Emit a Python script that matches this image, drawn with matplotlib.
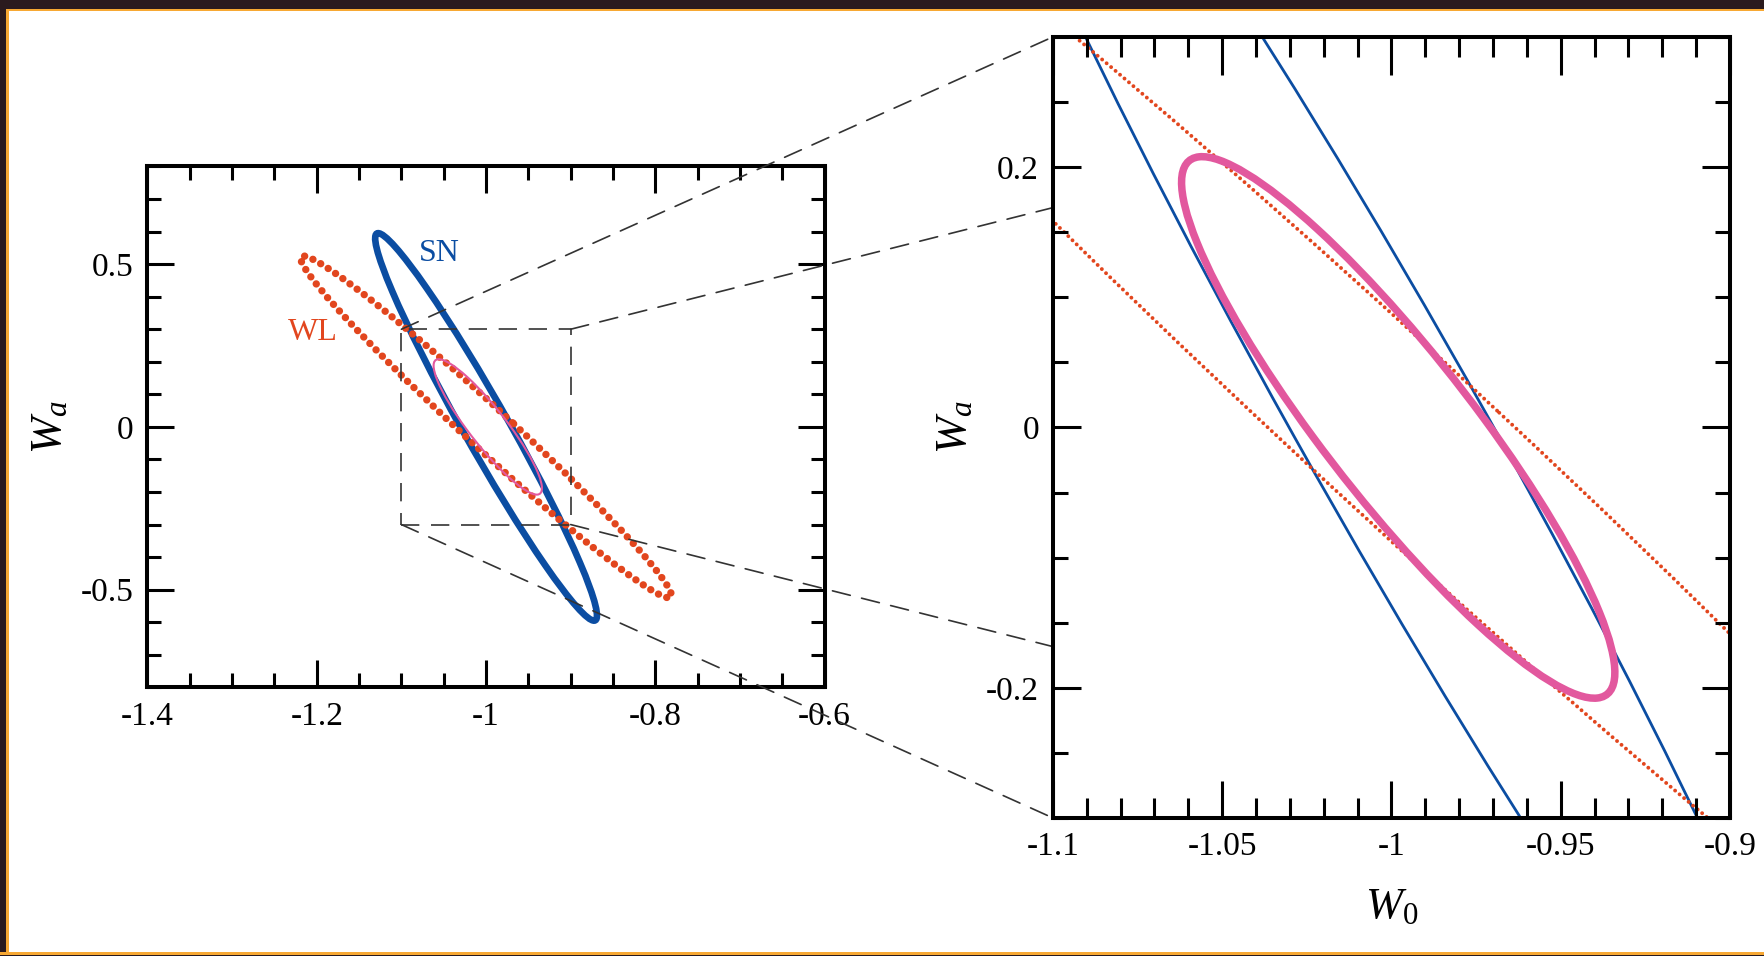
import numpy as np
import matplotlib
matplotlib.use('Agg')
import matplotlib.pyplot as plt
from matplotlib.patches import Ellipse, Rectangle, ConnectionPatch
from matplotlib.ticker import MultipleLocator, FixedLocator, FuncFormatter

plt.rcParams['font.family'] = ['Liberation Serif', 'DejaVu Serif']
plt.rcParams['mathtext.fontset'] = 'custom'
plt.rcParams['mathtext.rm'] = 'Liberation Serif'
plt.rcParams['mathtext.it'] = 'Liberation Serif:italic'
plt.rcParams['axes.unicode_minus'] = False

# contour data: SN, WL, combined (center, sigmas, correlation)
names = ['SN', 'WL', 'SN+WL']
w0_center = [-1.0, -1.0, -0.998]
wa_center = [0.0, 0.0, 0.0]
w0_sigma = [0.131, 0.219, 0.064]
wa_sigma = [0.595, 0.525, 0.208]
corr = [-0.973, -0.986, -0.905]

# axis ranges / ticks
full_w0 = [-1.4, -0.6]
full_wa = [-0.8, 0.8]
zoom_w0 = [-1.1, -0.9]
zoom_wa = [-0.3, 0.3]
full_w0_ticks = [-1.4, -1.2, -1, -0.8, -0.6]
full_wa_ticks = [-0.5, 0, 0.5]
zoom_w0_ticks = [-1.1, -1.05, -1, -0.95, -0.9]
zoom_wa_ticks = [-0.2, 0, 0.2]

blue = '#0B4DA2'
red = '#E2461E'
pink = '#E2589E'
colors = [blue, red, pink]


def ellipse_shape(i):
    sx, sy, r = w0_sigma[i], wa_sigma[i], corr[i]
    cov = np.array([[sx * sx, r * sx * sy], [r * sx * sy, sy * sy]])
    vals, vecs = np.linalg.eigh(cov)
    ang = np.degrees(np.arctan2(vecs[1, 1], vecs[0, 1]))
    return 2 * np.sqrt(vals[1]), 2 * np.sqrt(vals[0]), ang


def draw_contours(ax, lws, dots):
    for i in range(len(names)):
        w, h, ang = ellipse_shape(i)
        ls = (0, (0.01, dots)) if names[i] == 'WL' else '-'
        e = Ellipse((w0_center[i], wa_center[i]), w, h, angle=ang, fill=False,
                    edgecolor=colors[i], lw=lws[i], linestyle=ls, capstyle='round')
        ax.add_patch(e)


def style_axes(ax, xt, yt, xminor, yminor, xlen, ylen):
    ax.xaxis.set_major_locator(FixedLocator(xt))
    ax.yaxis.set_major_locator(FixedLocator(yt))
    ax.xaxis.set_minor_locator(MultipleLocator(xminor))
    ax.yaxis.set_minor_locator(MultipleLocator(yminor))
    fmt = FuncFormatter(lambda v, p: '{:g}'.format(round(v, 4)))
    ax.xaxis.set_major_formatter(fmt)
    ax.yaxis.set_major_formatter(fmt)
    ax.tick_params(which='both', direction='in', top=True, right=True,
                   width=2.2, labelsize=24, pad=10)
    ax.tick_params(axis='x', which='major', length=xlen[0])
    ax.tick_params(axis='x', which='minor', length=xlen[1])
    ax.tick_params(axis='y', which='major', length=ylen[0])
    ax.tick_params(axis='y', which='minor', length=ylen[1])
    for s in ax.spines.values():
        s.set_linewidth(2.9)


fig = plt.figure(figsize=(17.64, 9.56), dpi=100, facecolor='white')

# left: full view
ax1 = fig.add_axes([0.0836, 0.2810, 0.3839, 0.5449], zorder=0)
ax1.set_xlim(full_w0)
ax1.set_ylim(full_wa)
draw_contours(ax1, [4.8, 5.3, 1.5], 1.2)
style_axes(ax1, full_w0_ticks, full_wa_ticks, 0.05, 0.1, (19.5, 10), (19.5, 10))
ax1.set_ylabel('$W_a$', fontsize=32, labelpad=8)
ax1.text(-1.055, 0.534, 'SN', color=blue, fontsize=23, ha='center', va='center')
ax1.text(-1.205, 0.289, 'WL', color=red, fontsize=23, ha='center', va='center')

dash = (0, (11, 7))
ax1.add_patch(Rectangle((zoom_w0[0], zoom_wa[0]), zoom_w0[1] - zoom_w0[0],
                        zoom_wa[1] - zoom_wa[0], fill=False, edgecolor='#333333',
                        lw=1.2, linestyle=dash))

# right: zoomed view
ax2 = fig.add_axes([0.5969, 0.1444, 0.3838, 0.8170], zorder=2)
ax2.set_facecolor('white')
ax2.set_xlim(zoom_w0)
ax2.set_ylim(zoom_wa)
draw_contours(ax2, [2.0, 2.8, 5.4], 1.5)
style_axes(ax2, zoom_w0_ticks, zoom_wa_ticks, 0.01, 0.05, (27, 14.5), (20, 11))
ax2.set_ylabel('$W_a$', fontsize=32, labelpad=8)
ax2.set_xlabel('$W_0$', fontsize=32, labelpad=18)

# connectors between zoom box and right panel corners
for xc in zoom_w0:
    for yc in zoom_wa:
        con = ConnectionPatch(xyA=(xc, yc), coordsA=ax1.transData,
                              xyB=(xc, yc), coordsB=ax2.transData,
                              color='#333333', lw=1.2, linestyle=dash, zorder=1)
        fig.add_artist(con)

# slide frame
W, H = 1764.0, 956.0
dark = '#2a1a1e'
orange = '#F7A833'
frame = [
    (0, 1 - 9 / H, 1, 9 / H, dark),
    (0, 1 - 11 / H, 1, 2 / H, orange),
    (0, 0, 6 / W, 1 - 9 / H, dark),
    (6 / W, 0, 3 / W, 1 - 11 / H, orange),
    (0, 0, 1, 1 / H, dark),
    (0, 1 / H, 1, 3 / H, orange),
]
for x, y, w, h, c in frame:
    fig.add_artist(Rectangle((x, y), w, h, transform=fig.transFigure,
                             facecolor=c, edgecolor='none', zorder=5))

fig.savefig('out.png', dpi=100, facecolor='white')
